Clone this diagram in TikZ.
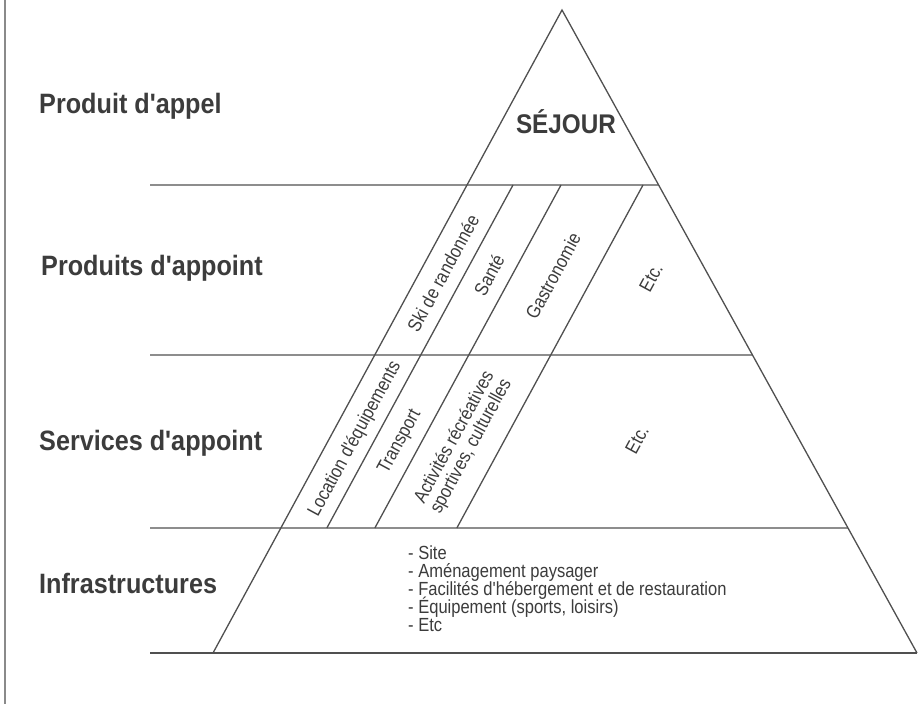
\documentclass[tikz,border=0pt]{standalone}
\usepackage{fontspec}
\setmainfont{Liberation Sans}
\newfontfamily\labfont[FakeStretch=0.9]{Liberation Sans}
\newfontfamily\smallfont[FakeStretch=0.87]{Liberation Sans}
\usetikzlibrary{calc}
\definecolor{ink}{HTML}{3C3C3C}
\definecolor{rulec}{HTML}{505050}
\definecolor{framec}{HTML}{8A8A8A}
\begin{document}
\begin{tikzpicture}[x=1pt,y=-1pt,
  edge/.style={draw=rulec,line width=1.3pt},
  level/.style={font=\labfont\bfseries\fontsize{28}{30}\selectfont,text=ink,anchor=base west,inner sep=0pt},
  item/.style={font=\smallfont\fontsize{19}{19}\selectfont,text=ink,rotate=61.5,inner sep=0pt,align=center},
  bullet/.style={font=\smallfont\fontsize{19}{18}\selectfont,text=ink,anchor=base west,inner sep=0pt}]
\useasboundingbox[fill=white] (0,0) rectangle (924,704);
% frame line
\coordinate (F1) at (5,0);
\coordinate (F2) at (5,704);
\draw[draw=framec,line width=1.3pt] (F1) -- (F2);
% pyramid
\coordinate (A) at (562,10);
\coordinate (BL) at (213,653);
\coordinate (BR) at (917,653);
\coordinate (L1) at ($(A)!0.27216!(BL)$);
\coordinate (L2) at ($(A)!0.53655!(BL)$);
\coordinate (L3) at ($(A)!0.80560!(BL)$);
\coordinate (R1) at ($(A)!0.27216!(BR)$);
\coordinate (R2) at ($(A)!0.53655!(BR)$);
\coordinate (R3) at ($(A)!0.80560!(BR)$);
\coordinate (H1) at (150,185);
\coordinate (H2) at (150,355);
\coordinate (H3) at (150,528);
\coordinate (H4) at (150,653);
\draw[edge] (BL) -- (A) -- (BR);
\draw[edge] (H1) -- (R1);
\draw[edge] (H2) -- (R2);
\draw[edge] (H3) -- (R3);
\draw[edge] (H4) -- (BR);
% diagonals parallel to the left edge
\draw[edge] ($(L1)+(46,0)$) -- ($(L3)+(46,0)$);
\draw[edge] ($(L1)+(94,0)$) -- ($(L3)+(94,0)$);
\draw[edge] ($(L1)+(176,0)$) -- ($(L3)+(176,0)$);
% level labels
\node[level] (n1) at (39,113) {Produit d'appel};
\node[level] (n2) at (41,275) {Produits d'appoint};
\node[level] (n3) at (39,450) {Services d'appoint};
\node[level] (n4) at (39,593) {Infrastructures};
\node[font=\labfont\bfseries\fontsize{27}{29}\selectfont,text=ink,anchor=base,inner sep=0pt] (sej) at (566,133) {SÉJOUR};
% rotated items
\node[item] (t1) at (443,273) {Ski de randonnée};
\node[item] (t2) at (489,275) {Santé};
\node[item] (t3) at (553,276) {Gastronomie};
\node[item] (t4) at (651,278) {Etc.};
\node[item] (t5) at (355,439) {Location d'équipements};
\node[item] (t6) at (400,442) {Transport};
\node[item] (t7) at (463,442) {Activités récréatives\\sportives, culturelles};
\node[item] (t8) at (637,440) {Etc.};
% infrastructure list
\node[bullet] (b1) at (408,559) {- Site};
\node[bullet] (b2) at (408,577) {- Aménagement paysager};
\node[bullet] (b3) at (408,595) {- Facilités d'hébergement et de restauration};
\node[bullet] (b4) at (408,613) {- Équipement (sports, loisirs)};
\node[bullet] (b5) at (408,631) {- Etc};
\end{tikzpicture}
\end{document}
